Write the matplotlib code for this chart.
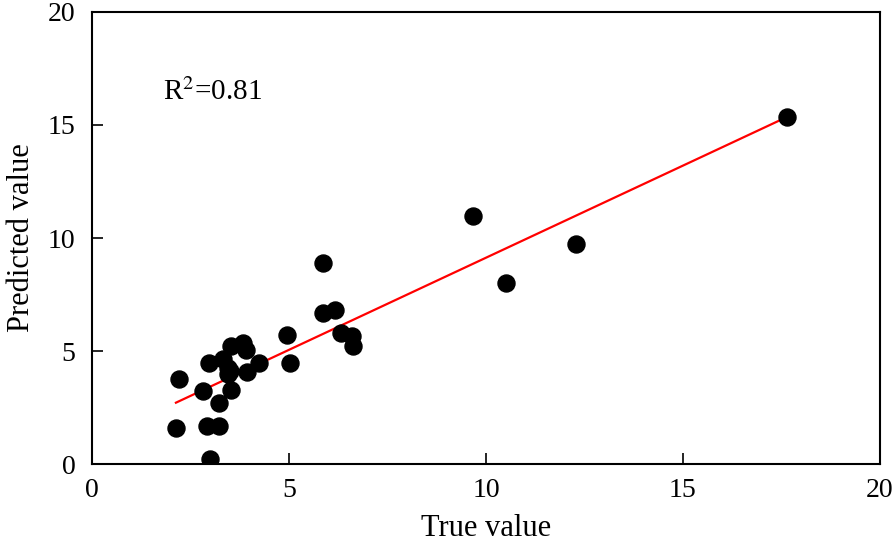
import numpy as np
import matplotlib.pyplot as plt

plt.rcParams['font.family'] = ['Liberation Serif', 'DejaVu Serif']
plt.rcParams['mathtext.fontset'] = 'stix'

true_vals = [2.21, 2.13, 2.82, 2.97, 2.92, 3.22, 2.99, 3.22, 3.32, 3.45, 3.45,
             3.50, 3.53, 3.53, 3.83, 3.91, 3.93, 4.24, 4.95, 5.03, 5.86, 6.17,
             6.32, 6.60, 6.62, 5.86, 9.67, 12.28, 10.51, 17.64]
pred_vals = [3.76, 1.59, 3.23, 4.47, 1.68, 1.68, 0.22, 2.70, 4.65, 4.25, 3.98,
             4.10, 3.27, 5.22, 5.35, 5.04, 4.07, 4.47, 5.71, 4.47, 6.68, 6.81,
             5.80, 5.66, 5.22, 8.89, 10.97, 9.73, 8.00, 15.35]
r2_label = 'R$^2$=0.81'

x = np.array(true_vals)
y = np.array(pred_vals)
k, b = np.polyfit(x, y, 1)
xl = np.array([x.min(), x.max()])

fig = plt.figure(figsize=(8.96, 5.44), dpi=100)
ax = fig.add_axes([0.1027, 0.147, 0.8793, 0.831])
ax.scatter(x, y, s=150, color='black', zorder=3)
ax.plot(xl, k * xl + b, color='red', lw=1.6, zorder=2)

ax.set_xlim(0, 20)
ax.set_ylim(0, 20)
ax.set_xticks([0, 5, 10, 15, 20])
ax.set_yticks([0, 5, 10, 15, 20])
ax.tick_params(direction='in', length=8, width=1.2, labelsize=20)
ax.tick_params(axis='x', pad=10)
ax.tick_params(axis='y', pad=12)
for s in ax.spines.values():
    s.set_linewidth(1.5)
ax.set_xlabel('True value', fontsize=22, labelpad=8)
ax.set_ylabel('Predicted value', fontsize=22, labelpad=8)
ax.text(1.8, 16.1, r2_label, fontsize=21)

plt.savefig('out.png')
plt.close()
